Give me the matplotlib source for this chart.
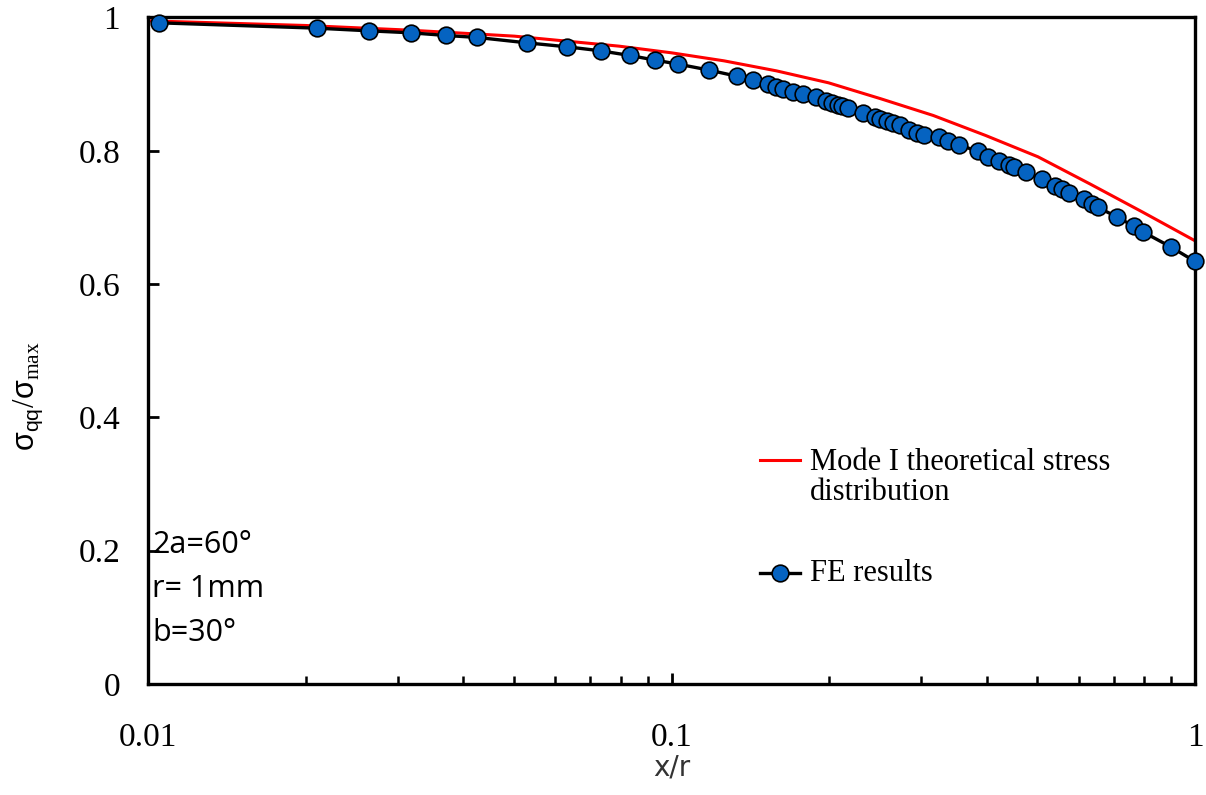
import matplotlib
matplotlib.use("Agg")
import matplotlib.pyplot as plt
from matplotlib.ticker import FixedLocator, NullFormatter, LogLocator
from matplotlib.lines import Line2D

# FE results: normalised stress along the notch bisector
fe_x = [0.0105, 0.0210, 0.0264, 0.0318, 0.0371, 0.0426, 0.0529, 0.0632, 0.0732,
        0.0833, 0.0931, 0.1030, 0.1181, 0.1331, 0.1429, 0.1526, 0.1583, 0.1636,
        0.1706, 0.1783, 0.1888, 0.1973, 0.2026, 0.2080, 0.2117, 0.2174, 0.2322,
        0.2447, 0.2502, 0.2580, 0.2649, 0.2732, 0.2842, 0.2944, 0.3036, 0.3243,
        0.3374, 0.3549, 0.3842, 0.4024, 0.4223, 0.4413, 0.4511, 0.4765, 0.5101,
        0.5413, 0.5570, 0.5733, 0.6124, 0.6358, 0.6527, 0.7086, 0.7630, 0.7968,
        0.8979, 1.0000]
fe_y = [0.992, 0.984, 0.980, 0.977, 0.973, 0.970, 0.962, 0.956, 0.950,
        0.943, 0.936, 0.930, 0.921, 0.912, 0.906, 0.900, 0.896, 0.893,
        0.888, 0.885, 0.881, 0.875, 0.872, 0.869, 0.867, 0.864, 0.857,
        0.851, 0.848, 0.845, 0.842, 0.838, 0.831, 0.827, 0.824, 0.821,
        0.815, 0.809, 0.799, 0.791, 0.785, 0.779, 0.776, 0.768, 0.757,
        0.747, 0.742, 0.737, 0.727, 0.720, 0.715, 0.701, 0.687, 0.678,
        0.656, 0.634]

# Mode I theoretical stress distribution
th_x = [0.0100, 0.0200, 0.0316, 0.0501, 0.0794, 0.1000, 0.1259, 0.1585,
        0.1995, 0.2512, 0.3162, 0.3981, 0.5012, 0.6310, 0.7943, 1.0000]
th_y = [0.995, 0.988, 0.981, 0.972, 0.957, 0.947, 0.935, 0.920,
        0.902, 0.878, 0.853, 0.823, 0.791, 0.750, 0.708, 0.665]

y_ticks = [0, 0.2, 0.4, 0.6, 0.8, 1.0]
y_tick_labels = ["0", "0.2", "0.4", "0.6", "0.8", "1"]
x_ticks = [0.01, 0.1, 1]
x_tick_labels = ["0.01", "0.1", "1"]
legend_labels = ["Mode I theoretical stress", "distribution", "FE results"]
notes = ["2a=60°", "r= 1mm", "b=30°"]

serif = "Liberation Serif"
sans = "Open Sans"
blue = "#0563C1"

plt.rcParams["mathtext.fontset"] = "custom"
plt.rcParams["mathtext.rm"] = serif
plt.rcParams["mathtext.sf"] = "Liberation Sans"

fig = plt.figure(figsize=(12.06, 7.95), dpi=100)
ax = fig.add_axes([0.1227, 0.1396, 0.8682, 0.8384])

ax.plot(th_x, th_y, color="#FF0000", lw=2.2, zorder=2)
ax.plot(fe_x, fe_y, color="black", lw=2.4, marker="o", ms=12,
        mfc=blue, mec="black", mew=1.2, zorder=3, clip_on=False)

ax.set_xscale("log")
ax.set_xlim(0.01, 1)
ax.set_ylim(0, 1)

ax.xaxis.set_major_locator(FixedLocator(x_ticks))
ax.set_xticklabels(x_tick_labels)
ax.xaxis.set_minor_locator(LogLocator(base=10, subs=range(2, 10)))
ax.xaxis.set_minor_formatter(NullFormatter())
ax.set_yticks(y_ticks)
ax.set_yticklabels(y_tick_labels)

for s in ax.spines.values():
    s.set_linewidth(2.4)

ax.tick_params(axis="both", which="major", direction="in", length=8, width=2,
               labelsize=24)
ax.tick_params(axis="x", which="major", pad=28)
ax.tick_params(axis="y", which="major", pad=20)
ax.tick_params(axis="x", which="minor", direction="in", length=6, width=1.8)
for lab in ax.get_xticklabels() + ax.get_yticklabels():
    lab.set_fontfamily(serif)

ax.set_ylabel(r"$\mathsf{\sigma}_{\mathsf{qq}}/\mathsf{\sigma}_{\mathrm{max}}$",
              fontsize=22)
ax.yaxis.set_label_coords(-0.098, 0.432)
ax.set_xlabel("x/r", fontfamily="DejaVu Sans", fontsize=20, labelpad=0,
              color="#333333")

# legend drawn in axes coordinates
tr = ax.transAxes
ax.add_line(Line2D([0.5845, 0.6227], [0.336, 0.336], color="#FF0000", lw=2.2,
                   transform=tr))
ax.add_line(Line2D([0.5845, 0.6227], [0.1665, 0.1665], color="black", lw=2.4,
                   transform=tr))
ax.add_line(Line2D([0.6036], [0.1665], marker="o", ms=12, mfc=blue, mec="black",
                   mew=1.2, transform=tr))
for label, yy in zip(legend_labels, [0.333, 0.287, 0.1665]):
    ax.text(0.6323, yy, label, transform=tr, fontfamily=serif, fontsize=22,
            va="center", ha="left")

for i, t in enumerate(notes):
    ax.text(0.004, 0.208 - i * 0.066, t, transform=tr,
            fontfamily=sans, fontsize=22, va="center", ha="left")

fig.savefig("out.png", dpi=100)
